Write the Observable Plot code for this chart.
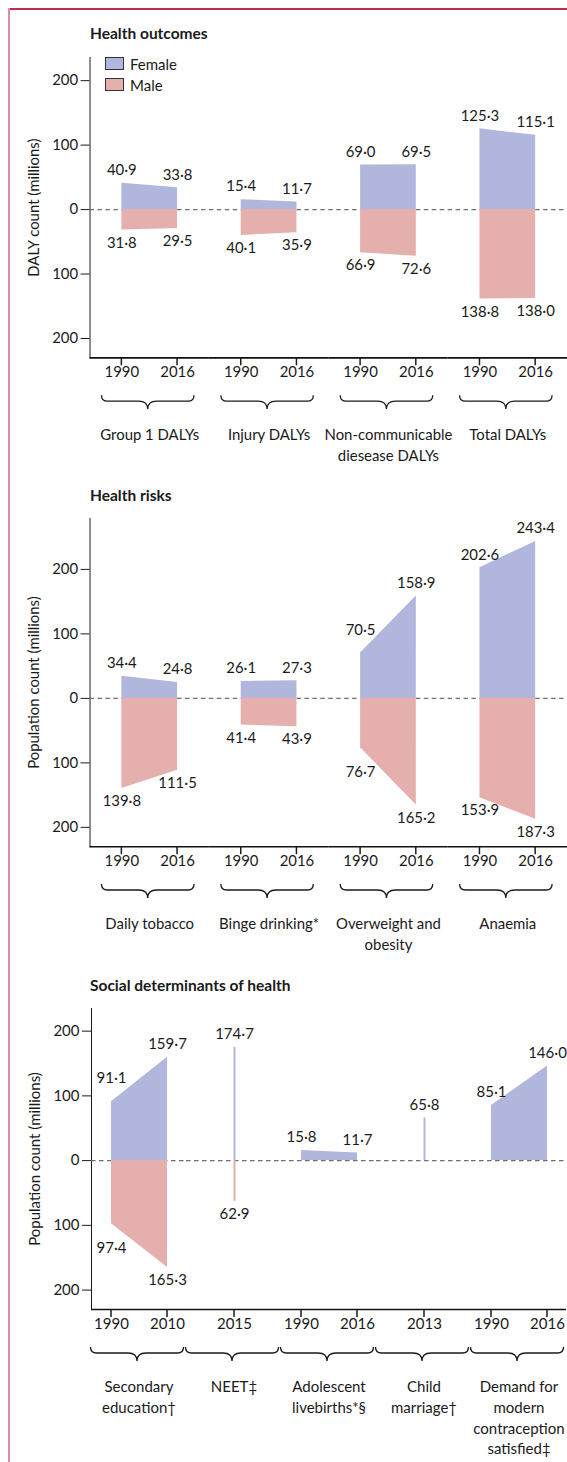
<!DOCTYPE html>
<html>
<head>
<meta charset="utf-8">
<script src="https://cdn.jsdelivr.net/npm/d3@7"></script>
<script src="https://cdn.jsdelivr.net/npm/@observablehq/plot@0.6"></script>
<style>
  html, body { margin: 0; padding: 0; background: #fff; }
  #root { position: relative; width: 567px; height: 1462px; overflow: hidden;
          font-family: Lato, "Open Sans", sans-serif; color: #1a1a1a; }
  .frame-top { position: absolute; left: 8px; top: 8px; width: 559px; height: 0; border-top: 2px solid #b9304f; }
  .frame-left { position: absolute; left: 8px; top: 8px; width: 0; height: 1454px; border-left: 2px solid #dd8ca1; }
  .title { position: absolute; left: 90px; font-weight: bold; font-size: 15.5px; line-height: 20px; white-space: nowrap; }
  .panel { position: absolute; left: 0; }
  .legend { position: absolute; left: 105px; font-size: 15px; line-height: 20px; }
  .legend .item { position: absolute; left: 0; white-space: nowrap; }
  .legend .sw { position: absolute; left: 0; width: 17px; height: 11px; border: 1.3px solid #333; }
  .legend .lab { position: absolute; left: 25px; top: 0; }
</style>
</head>
<body>
<div id="root">
  <div class="frame-top"></div>
  <div class="frame-left"></div>
  <div class="title" style="top:23px">Health outcomes</div>
  <div class="title" style="top:485px">Health risks</div>
  <div class="title" style="top:975px">Social determinants of health</div>
  <div id="p1" class="panel" style="top:45px"></div>
  <div id="p2" class="panel" style="top:510px"></div>
  <div id="p3" class="panel" style="top:998px"></div>
  <div id="legend" class="legend" style="top:54px"></div>
</div>
<script>
// ---------- data ----------
const sexes = ["Female", "Male"];
const femaleColor = "#b1b6dc";
const maleColor = "#e4afac";

// Health outcomes (DALY count, millions)
const outcomeGroups = ["Group 1 DALYs", "Injury DALYs", "Non-communicable\ndiesease DALYs", "Total DALYs"];
const outcomeYears = [[1990, 2016], [1990, 2016], [1990, 2016], [1990, 2016]];
const outcomeFemale = [[40.9, 33.8], [15.4, 11.7], [69.0, 69.5], [125.3, 115.1]];
const outcomeMale = [[31.8, 29.5], [40.1, 35.9], [66.9, 72.6], [138.8, 138.0]];

// Health risks (population count, millions)
const riskGroups = ["Daily tobacco", "Binge drinking*", "Overweight and\nobesity", "Anaemia"];
const riskYears = [[1990, 2016], [1990, 2016], [1990, 2016], [1990, 2016]];
const riskFemale = [[34.4, 24.8], [26.1, 27.3], [70.5, 158.9], [202.6, 243.4]];
const riskMale = [[139.8, 111.5], [41.4, 43.9], [76.7, 165.2], [153.9, 187.3]];

// Social determinants of health (population count, millions)
const socialGroups = ["Secondary\neducation†", "NEET‡", "Adolescent\nlivebirths*§", "Child\nmarriage†", "Demand for\nmodern\ncontraception\nsatisfied‡"];
const socialYears = [[1990, 2010], [2015], [1990, 2016], [2013], [1990, 2016]];
const socialFemale = [[91.1, 159.7], [174.7], [15.8, 11.7], [65.8], [85.1, 146.0]];
const socialMale = [[97.4, 165.3], [62.9], null, null, null];

const yTicks = [-200, -100, 0, 100, 200];

// ---------- helpers ----------
const fmt = v => v.toFixed(1).replace(".", "\u00b7");

function buildRows(groups, years, female, male) {
  const rows = [];
  groups.forEach((g, i) => {
    const ys = years[i];
    ys.forEach((yr, j) => {
      const slot = ys.length === 1 ? "only" : (j === 0 ? "first" : "last");
      const f = female[i] ? female[i][j] : null;
      const m = male[i] ? male[i][j] : null;
      // labels of a starting point followed by a steep rise are pushed further out
      const fSteep = ys.length === 2 && j === 0 && female[i] && (female[i][1] - female[i][0] > 65);
      const mSteep = ys.length === 2 && j === 0 && male[i] && (male[i][1] - male[i][0] > 65);
      rows.push({group: g, year: yr, slot, female: f, male: m, fSteep, mSteep});
    });
  });
  return rows;
}

function makePanel(el, cfg) {
  const data = buildRows(cfg.groups, cfg.years, cfg.female, cfg.male);
  const fem = data.filter(d => d.female != null);
  const mal = data.filter(d => d.male != null);
  const height = cfg.marginTop + cfg.plotHeight + cfg.marginBottom;
  const plot = Plot.plot({
    width: cfg.width,
    height,
    marginLeft: cfg.marginLeft,
    marginRight: cfg.marginRight,
    marginTop: cfg.marginTop,
    marginBottom: cfg.marginBottom,
    style: {fontFamily: "Lato, 'Open Sans', sans-serif", fontSize: "15px", color: "#1a1a1a", background: "transparent", overflow: "visible"},
    fx: {domain: cfg.groups, padding: 0, axis: null},
    x: {domain: ["first", "only", "last"], padding: cfg.pad, axis: null},
    y: {domain: cfg.yDomain, ticks: yTicks, tickFormat: d => Math.abs(d), line: true,
        tickSize: 9, tickPadding: 3, label: cfg.yLabel, labelAnchor: "center", labelOffset: 62, labelArrow: false},
    marks: [
      Plot.ruleY([0], {stroke: "#6f6f6f", strokeWidth: 1.2, strokeDasharray: "4.5,3.5"}),
      Plot.ruleY([cfg.yDomain[0]], {stroke: "#111", strokeWidth: 1.6}),
      Plot.areaY(fem.filter(d => d.slot !== "only"), {fx: "group", x: "slot", y1: 0, y2: "female", fill: femaleColor}),
      Plot.areaY(mal.filter(d => d.slot !== "only"), {fx: "group", x: "slot", y1: 0, y2: d => -d.male, fill: maleColor}),
      Plot.ruleX(fem.filter(d => d.slot === "only"), {fx: "group", x: "slot", y1: 0, y2: "female", stroke: femaleColor, strokeWidth: 2}),
      Plot.ruleX(mal.filter(d => d.slot === "only"), {fx: "group", x: "slot", y1: 0, y2: d => -d.male, stroke: maleColor, strokeWidth: 2}),
      Plot.text(fem.filter(d => !d.fSteep), {fx: "group", x: "slot", y: "female", text: d => fmt(d.female), dy: -13}),
      Plot.text(fem.filter(d => d.fSteep), {fx: "group", x: "slot", y: "female", text: d => fmt(d.female), dy: -23}),
      Plot.text(mal.filter(d => !d.mSteep), {fx: "group", x: "slot", y: d => -d.male, text: d => fmt(d.male), dy: 13}),
      Plot.text(mal.filter(d => d.mSteep), {fx: "group", x: "slot", y: d => -d.male, text: d => fmt(d.male), dy: 25}),
      Plot.text(data, {fx: "group", x: "slot", text: d => String(d.year), frameAnchor: "bottom", dy: 19}),
      Plot.text(cfg.groups, {fx: d => d, text: d => d, frameAnchor: "bottom", dy: 68, lineAnchor: "top", lineHeight: 1.38})
    ]
  });

  // x tick marks and curly braces, placed through the plot's own scales
  const fxS = plot.scale("fx"), xS = plot.scale("x"), yS = plot.scale("y");
  const axisY = yS.apply(cfg.yDomain[0]);
  const g = d3.select(plot).append("g").attr("fill", "none").attr("stroke", "#1a1a1a");
  data.forEach(d => {
    const X = fxS.apply(d.group) + xS.apply(d.slot) - xS.range[0];
    g.append("line").attr("x1", X).attr("x2", X).attr("y1", axisY).attr("y2", axisY + 8).attr("stroke-width", 1.5);
  });
  cfg.groups.forEach(name => {
    const c = fxS.apply(name) + fxS.bandwidth / 2 - 1.5;
    const x0 = c - 46.5, x1 = c + 46.5;
    const y0 = axisY + 38, y1 = axisY + 44, y2 = axisY + 52;
    const p = `M${x0},${y0} Q${x0},${y1} ${x0 + 6},${y1} L${c - 9},${y1} Q${c},${y1} ${c},${y2} Q${c},${y1} ${c + 9},${y1} L${x1 - 6},${y1} Q${x1},${y1} ${x1},${y0}`;
    g.append("path").attr("d", p).attr("stroke-width", 1.3);
  });
  el.appendChild(plot);
}

makePanel(document.getElementById("p1"), {
  groups: outcomeGroups, years: outcomeYears, female: outcomeFemale, male: outcomeMale,
  yDomain: [-230, 236], yLabel: "DALY count (millions)",
  width: 570, marginLeft: 89, marginRight: 0, marginTop: 12, plotHeight: 302, marginBottom: 111, pad: 1.095
});
makePanel(document.getElementById("p2"), {
  groups: riskGroups, years: riskYears, female: riskFemale, male: riskMale,
  yDomain: [-230, 279], yLabel: "Population count (millions)",
  width: 570, marginLeft: 89, marginRight: 0, marginTop: 8, plotHeight: 330, marginBottom: 111, pad: 1.095
});
makePanel(document.getElementById("p3"), {
  groups: socialGroups, years: socialYears, female: socialFemale, male: socialMale,
  yDomain: [-230, 235], yLabel: "Population count (millions)",
  width: 567, marginLeft: 89, marginRight: 0, marginTop: 10, plotHeight: 301, marginBottom: 146, pad: 0.663
});

// legend
const legend = d3.select("#legend");
sexes.forEach((s, i) => {
  const item = legend.append("div").attr("class", "item").style("top", (i * 21) + "px");
  item.append("div").attr("class", "sw").style("top", "3px").style("background", i === 0 ? femaleColor : maleColor);
  item.append("div").attr("class", "lab").text(s);
});
</script>
</body>
</html>
